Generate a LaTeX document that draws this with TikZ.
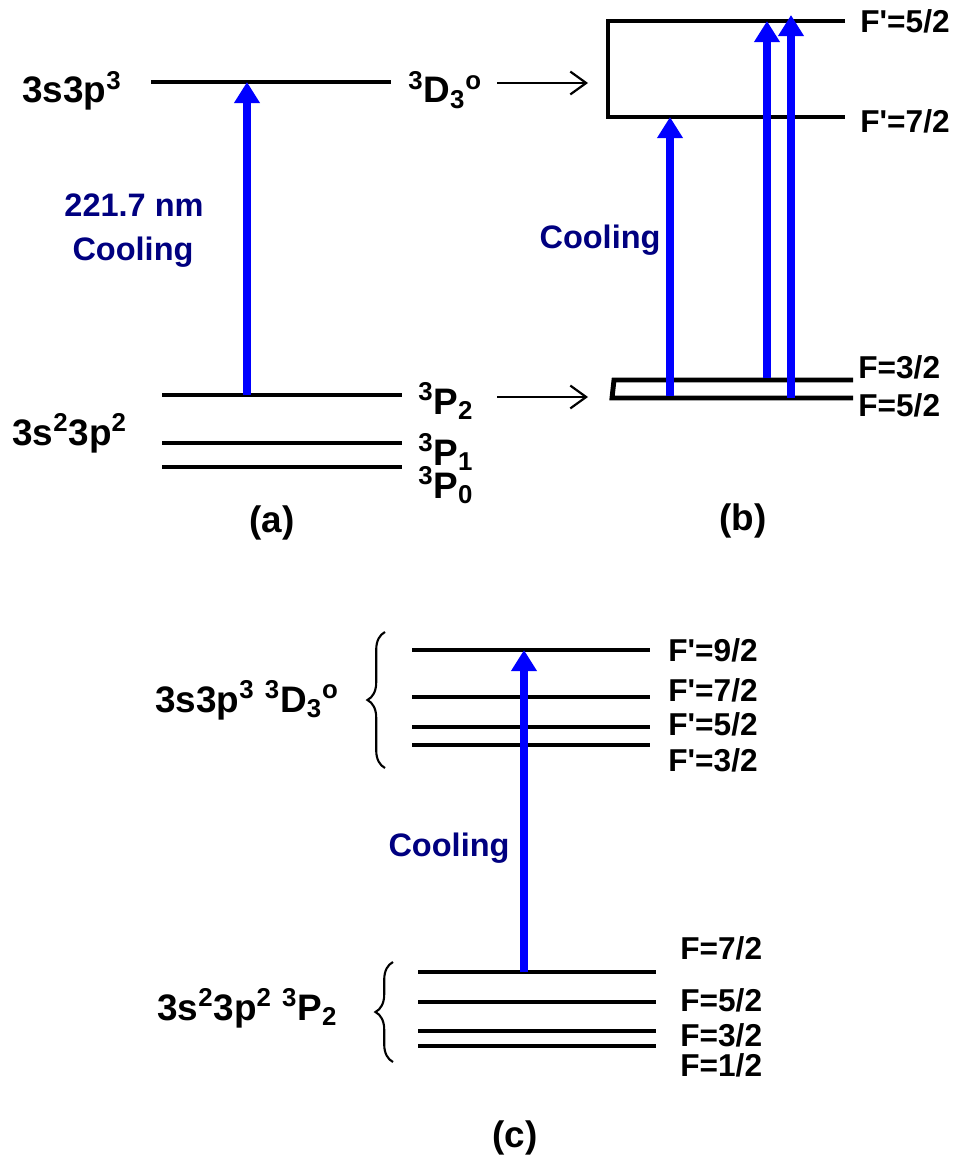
\documentclass[tikz,border=0pt]{standalone}
\usepackage{fontspec}
\setmainfont{Liberation Sans}
\usetikzlibrary{arrows.meta, decorations.pathreplacing}
\definecolor{coolnavy}{RGB}{0,0,128}
\newcommand{\Dterm}{\textsuperscript{3}D\textsubscript{3}\textsuperscript{o}}
\newcommand{\Pterm}[1]{\textsuperscript{3}P\textsubscript{#1}}
\newcommand{\pr}{\textquotesingle}

\begin{document}
\begin{tikzpicture}[x=0.02cm, y=-0.02cm,
  level/.style={line width=2.8pt},
  cool/.style={blue, line width=4.4pt, -{Triangle[length=12pt,width=14pt]}},
  pointer/.style={line width=1.25pt, -{Straight Barb[length=9pt,width=13pt]}},
  state/.style={font=\fontsize{21}{25}\selectfont\bfseries, inner sep=0pt, anchor=base west},
  hf/.style={font=\fontsize{18}{21}\selectfont\bfseries, inner sep=0pt, anchor=west},
  tag/.style={font=\fontsize{18.5}{22}\selectfont\bfseries, text=coolnavy, inner sep=0pt},
  panel/.style={font=\fontsize{21}{25}\selectfont\bfseries, inner sep=0pt},
  hbrace/.style={line width=1.2pt, decorate, decoration={brace, amplitude=10pt}}]
  \useasboundingbox (0,0) rectangle (956,1162);

  % (a) fine structure
  \draw[level] (151,82) -- (391,82);
  \draw[level] (162,395) -- (402,395);
  \draw[level] (162,443) -- (402,443);
  \draw[level] (162,467) -- (402,467);
  \coordinate (aTop) at (247,82);
  \coordinate (aBot) at (247,395);
  \node[state] (aUpName) at (22,103) {3s3p\textsuperscript{3}};
  \node[state] (aUpTerm) at (408,103) {\Dterm};
  \node[state] (aLowName) at (12,445) {3s\textsuperscript{2}3p\textsuperscript{2}};
  \node[state] (aPtwo) at (418,414) {\Pterm{2}};
  \node[state] (aPone) at (418,465) {\Pterm{1}};
  \node[state] (aPzero) at (418,498) {\Pterm{0}};
  \node[tag] (aWave) at (134,205) {221.7 nm};
  \node[tag] (aCool) at (133,252) {Cooling};
  \node[panel] (aTag) at (272,523) {(a)};
  \draw[cool] (aBot) -- (aTop);

  % pointers to the hyperfine blow-up
  \coordinate (pUpA) at (497,83);
  \coordinate (pUpB) at (588,83);
  \coordinate (pLowA) at (497,397);
  \coordinate (pLowB) at (588,397);
  \draw[pointer] (pUpA) -- (pUpB);
  \draw[pointer] (pLowA) -- (pLowB);

  % (b) hyperfine levels, magnified
  \draw[level] (845,21) -- (608,21) -- (608,117) -- (845,117);
  \draw[level] (853,380) -- (614,380) -- (612,398) -- (853,398);
  \node[hf] (bFfive) at (860,21) {F\pr=5/2};
  \node[hf] (bFseven) at (860,121) {F\pr=7/2};
  \node[hf] (bGthree) at (858,367) {F=3/2};
  \node[hf] (bGfive) at (858,405) {F=5/2};
  \coordinate (bOneTop) at (670,117);
  \coordinate (bOneBot) at (670,396);
  \coordinate (bTwoTop) at (767,21);
  \coordinate (bTwoBot) at (767,378);
  \coordinate (bThrTop) at (791,15);
  \coordinate (bThrBot) at (791,398);
  \draw[cool] (bOneBot) -- (bOneTop);
  \draw[cool] (bTwoBot) -- (bTwoTop);
  \draw[cool] (bThrBot) -- (bThrTop);
  \node[tag] (bCool) at (600,240) {Cooling};
  \node[panel] (bTag) at (743,521) {(b)};

  % (c) hyperfine ladder
  \foreach \ylev in {650, 697, 727, 745} {
    \draw[level] (412,\ylev) -- (650,\ylev);
  }
  \foreach \ylev in {972, 1002, 1031, 1046} {
    \draw[level] (418,\ylev) -- (656,\ylev);
  }
  \node[hf] (cFnine) at (668,650) {F\pr=9/2};
  \node[hf] (cFseven) at (668,690) {F\pr=7/2};
  \node[hf] (cFfive) at (668,724) {F\pr=5/2};
  \node[hf] (cFthree) at (668,760) {F\pr=3/2};
  \node[hf] (cGseven) at (680,948) {F=7/2};
  \node[hf] (cGfive) at (680,1000) {F=5/2};
  \node[hf] (cGthree) at (680,1035) {F=3/2};
  \node[hf] (cGone) at (680,1065) {F=1/2};
  \node[state] (cUpName) at (155,712) {3s3p\textsuperscript{3} \Dterm};
  \node[state] (cLowName) at (157,1020) {3s\textsuperscript{2}3p\textsuperscript{2} \Pterm{2}};
  \coordinate (cBraceUpA) at (385,768);
  \coordinate (cBraceUpB) at (385,632);
  \coordinate (cBraceLowA) at (393,1062);
  \coordinate (cBraceLowB) at (393,962);
  \draw[hbrace] (cBraceUpA) -- (cBraceUpB);
  \draw[hbrace] (cBraceLowA) -- (cBraceLowB);
  \coordinate (cTop) at (524,650);
  \coordinate (cBot) at (524,972);
  \draw[cool] (cBot) -- (cTop);
  \node[tag] (cCool) at (449,848) {Cooling};
  \node[panel] (cTag) at (515,1138) {(c)};
\end{tikzpicture}
\end{document}
